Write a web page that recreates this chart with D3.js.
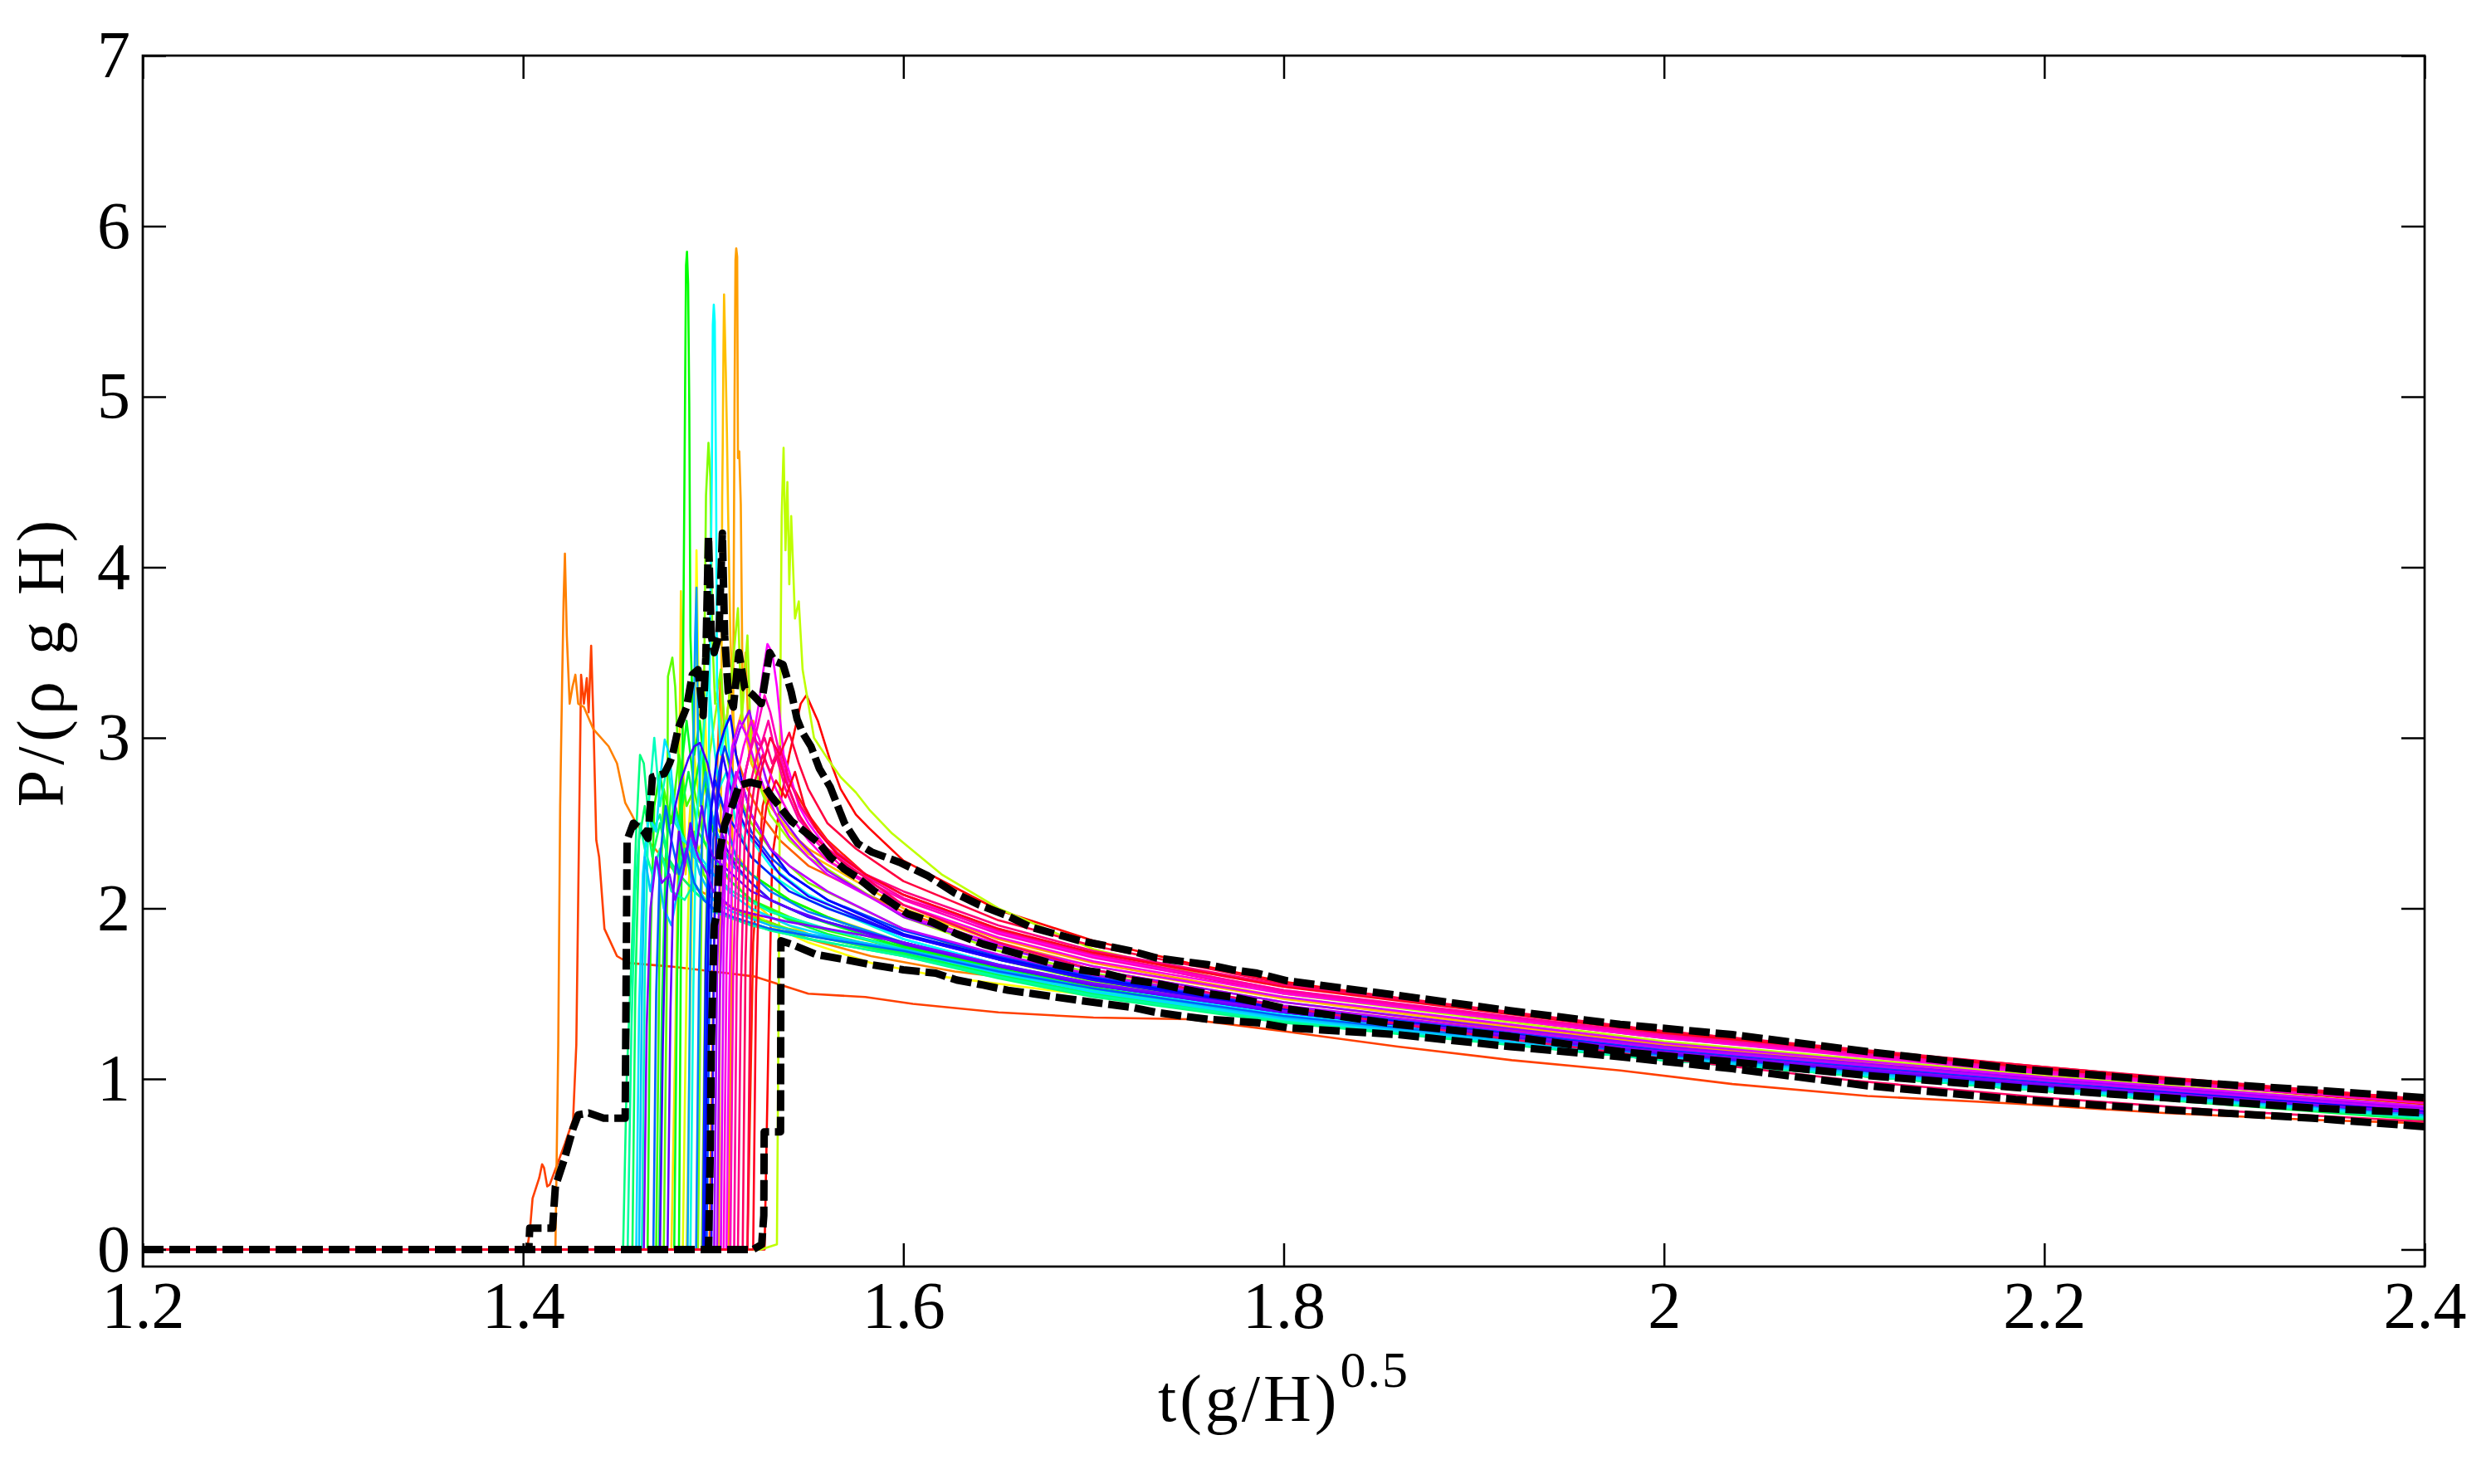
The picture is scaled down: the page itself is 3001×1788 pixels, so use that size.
<!DOCTYPE html>
<html><head><meta charset="utf-8">
<script src="https://cdn.jsdelivr.net/npm/d3@7"></script>
<style>body{margin:0;background:#fff}</style>
</head><body>
<svg id="c" width="3001" height="1788"></svg>
<script>
const xTicks=[1.2,1.4,1.6,1.8,2,2.2,2.4];
const yTicks=[0,1,2,3,4,5,6,7];
const xLabel="t(g/H)", xLabelSup="0.5", yLabel="P/(ρ g H)";

// one array of [t, P] points per run, in plotting (colour) order
const runs=[
[[1.2,0],[1.527,0],[1.529,1.2],[1.531,2.3],[1.535,2.6],[1.54,2.9],[1.546,3.2],[1.549,3.25],[1.555,3.1],[1.562,2.85],[1.567,2.7],[1.575,2.55],[1.582,2.47],[1.6,2.28],[1.65,1.99],[1.7,1.81],[1.75,1.68],[1.8,1.57],[1.9,1.41],[2.0,1.28],[2.1,1.17],[2.2,1.07],[2.3,0.97],[2.4,0.88]],
[[1.2,0],[1.518,0],[1.521,1.8],[1.526,2.6],[1.533,2.9],[1.54,2.75],[1.55,2.55],[1.56,2.4],[1.58,2.2],[1.6,2.08],[1.65,1.88],[1.7,1.72],[1.8,1.5],[2.0,1.24],[2.2,1.04],[2.4,0.85]],
[[1.2,0],[1.402,0],[1.4035,0.1],[1.405,0.3],[1.4085,0.42],[1.41,0.5],[1.411,0.48],[1.4127,0.37],[1.414,0.38],[1.418,0.5],[1.422,0.62],[1.4263,0.76],[1.428,1.2],[1.4295,2.5],[1.4305,3.37],[1.432,3.2],[1.4335,3.35],[1.4345,3.15],[1.4358,3.54],[1.437,3.1],[1.4385,2.4],[1.44,2.3],[1.4428,1.88],[1.4494,1.72],[1.4555,1.68],[1.477,1.66],[1.5,1.63],[1.522,1.6],[1.55,1.5],[1.58,1.48],[1.605,1.44],[1.65,1.39],[1.7,1.36],[1.75,1.35],[1.8,1.28],[1.86,1.19],[1.92,1.11],[1.977,1.05],[2.036,0.97],[2.107,0.9],[2.185,0.855],[2.263,0.8],[2.341,0.76],[2.4,0.74]],
[[1.2,0],[1.498,0],[1.5,1.5],[1.502,2.8],[1.504,3.4],[1.506,3.0],[1.509,3.3],[1.512,2.9],[1.518,2.7],[1.525,2.55],[1.535,2.4],[1.55,2.25],[1.6,1.98],[1.65,1.78],[1.7,1.64],[1.8,1.45],[2.0,1.18],[2.2,0.99],[2.4,0.81]],
[[1.2,0],[1.417,0],[1.4185,1.2],[1.4195,2.6],[1.4205,3.3],[1.4213,3.8],[1.422,4.08],[1.423,3.6],[1.4245,3.2],[1.426,3.3],[1.4275,3.37],[1.429,3.2],[1.432,3.18],[1.437,3.05],[1.445,2.95],[1.4494,2.85],[1.4537,2.62],[1.46,2.49],[1.467,2.38],[1.477,2.25],[1.487,2.14],[1.5,2.06],[1.515,1.98],[1.532,1.91],[1.55,1.82],[1.583,1.72],[1.627,1.63],[1.671,1.57],[1.714,1.51],[1.758,1.45],[1.8,1.38],[1.9,1.24],[2.0,1.13],[2.1,1.02],[2.2,0.93],[2.3,0.86],[2.4,0.78]],
[[1.2,0],[1.508,0],[1.5095,1.6],[1.5105,3.2],[1.5112,4.96],[1.5117,5.8],[1.5121,5.87],[1.5126,5.82],[1.513,4.64],[1.5137,4.68],[1.5145,4.37],[1.5155,3.2],[1.517,3.5],[1.519,2.9],[1.521,3.1],[1.525,2.7],[1.53,2.6],[1.54,2.45],[1.55,2.35],[1.6,2.02],[1.65,1.82],[1.7,1.68],[1.8,1.48],[2.0,1.2],[2.2,1.0],[2.4,0.82]],
[[1.2,0],[1.503,0],[1.5035,1.5],[1.5043,3.2],[1.5047,4.41],[1.505,4.71],[1.5054,5.3],[1.5057,5.6],[1.5062,5.35],[1.5066,5.15],[1.5072,4.79],[1.5078,4.34],[1.509,3.6],[1.511,3.0],[1.515,3.15],[1.52,2.85],[1.53,2.6],[1.54,2.45],[1.55,2.32],[1.6,2.0],[1.65,1.8],[1.7,1.66],[1.8,1.47],[2.0,1.19],[2.2,1.0],[2.4,0.82]],
[[1.2,0],[1.478,0],[1.48,1.2],[1.482,2.6],[1.483,3.86],[1.484,3.0],[1.4855,2.2],[1.488,2.6],[1.49,2.3],[1.495,2.4],[1.5,2.25],[1.51,2.15],[1.52,2.05],[1.53,1.95],[1.55,1.85],[1.6,1.72],[1.65,1.62],[1.7,1.54],[1.8,1.38],[2.0,1.13],[2.2,0.95],[2.4,0.78]],
[[1.2,0],[1.486,0],[1.488,1.5],[1.49,2.8],[1.4912,4.1],[1.4925,3.1],[1.495,3.4],[1.497,2.7],[1.5,2.5],[1.505,2.3],[1.51,2.2],[1.52,2.0],[1.53,1.9],[1.55,1.8],[1.583,1.68],[1.62,1.6],[1.67,1.53],[1.72,1.46],[1.8,1.35],[1.9,1.23],[2.0,1.12],[2.2,0.94],[2.4,0.77]],
[[1.2,0],[1.484,0],[1.486,1.6],[1.488,2.5],[1.49,2.9],[1.493,2.6],[1.497,2.75],[1.5,2.5],[1.51,2.35],[1.52,2.2],[1.54,2.05],[1.56,1.95],[1.6,1.8],[1.65,1.66],[1.7,1.56],[1.8,1.4],[2.0,1.15],[2.2,0.96],[2.4,0.79]],
[[1.2,0],[1.525,0],[1.5335,0.03],[1.5345,1.6],[1.535,2.6],[1.5355,3.6],[1.536,4.3],[1.537,4.7],[1.538,4.1],[1.539,4.5],[1.54,3.9],[1.541,4.3],[1.543,3.7],[1.545,3.8],[1.547,3.4],[1.55,3.2],[1.553,3.0],[1.56,2.88],[1.567,2.77],[1.575,2.68],[1.582,2.58],[1.594,2.44],[1.62,2.2],[1.65,2.0],[1.7,1.76],[1.8,1.5],[2.0,1.22],[2.2,1.02],[2.4,0.84]],
[[1.2,0],[1.494,0],[1.496,1.8],[1.498,2.9],[1.502,3.2],[1.506,3.0],[1.51,3.4],[1.513,3.76],[1.515,3.1],[1.518,3.6],[1.52,2.9],[1.525,2.7],[1.53,2.55],[1.54,2.4],[1.55,2.3],[1.6,1.95],[1.65,1.75],[1.7,1.62],[1.8,1.42],[2.0,1.16],[2.2,0.97],[2.4,0.8]],
[[1.2,0],[1.492,0],[1.4935,1.7],[1.495,3.1],[1.4962,4.42],[1.4975,4.73],[1.4985,4.53],[1.4995,3.6],[1.501,3.2],[1.504,3.4],[1.507,2.9],[1.51,2.75],[1.52,2.5],[1.53,2.35],[1.55,2.15],[1.6,1.88],[1.65,1.7],[1.7,1.57],[1.8,1.4],[2.0,1.14],[2.2,0.95],[2.4,0.79]],
[[1.2,0],[1.474,0],[1.4755,1.5],[1.4762,3.36],[1.4785,3.47],[1.48,3.3],[1.482,2.79],[1.485,2.3],[1.49,2.45],[1.495,2.2],[1.5,2.1],[1.51,2.0],[1.52,1.95],[1.54,1.88],[1.56,1.82],[1.6,1.74],[1.62,1.7],[1.625,1.66],[1.63,1.69],[1.64,1.63],[1.65,1.62],[1.7,1.52],[1.8,1.37],[2.0,1.13],[2.2,0.95],[2.4,0.78]],
[[1.2,0],[1.47,0],[1.472,2.0],[1.474,2.7],[1.478,2.5],[1.482,2.9],[1.486,2.6],[1.49,2.7],[1.495,2.4],[1.5,2.3],[1.51,2.15],[1.52,2.05],[1.54,1.95],[1.56,1.87],[1.6,1.76],[1.65,1.64],[1.7,1.53],[1.8,1.36],[2.0,1.12],[2.2,0.94],[2.4,0.77]],
[[1.2,0],[1.4655,0],[1.467,1.8],[1.469,2.6],[1.472,2.8],[1.476,2.45],[1.48,2.6],[1.485,2.4],[1.49,2.3],[1.5,2.2],[1.51,2.1],[1.53,1.98],[1.55,1.9],[1.6,1.77],[1.65,1.65],[1.7,1.54],[1.8,1.36],[2.0,1.12],[2.2,0.94],[2.4,0.77]],
[[1.2,0],[1.482,0],[1.483,1.8],[1.4842,3.5],[1.4852,5.02],[1.4857,5.77],[1.4862,5.85],[1.4868,5.66],[1.4874,4.95],[1.488,3.6],[1.49,2.9],[1.493,3.1],[1.497,2.6],[1.5,2.45],[1.51,2.3],[1.52,2.2],[1.54,2.05],[1.56,1.95],[1.6,1.78],[1.65,1.65],[1.7,1.55],[1.8,1.37],[2.0,1.13],[2.2,0.95],[2.4,0.78]],
[[1.2,0],[1.4795,0],[1.481,1.6],[1.483,2.8],[1.486,3.1],[1.49,2.7],[1.494,2.95],[1.5,2.5],[1.505,2.35],[1.515,2.2],[1.53,2.05],[1.55,1.95],[1.6,1.77],[1.65,1.64],[1.7,1.53],[1.8,1.36],[2.0,1.12],[2.2,0.94],[2.4,0.77]],
[[1.2,0],[1.4715,0],[1.473,1.4],[1.475,2.3],[1.478,2.7],[1.482,2.5],[1.487,2.8],[1.492,2.45],[1.5,2.3],[1.51,2.15],[1.52,2.05],[1.54,1.93],[1.56,1.85],[1.6,1.74],[1.65,1.61],[1.7,1.5],[1.8,1.34],[2.0,1.11],[2.2,0.93],[2.4,0.76]],
[[1.2,0],[1.4575,0],[1.459,1.5],[1.461,2.4],[1.464,2.6],[1.468,2.3],[1.472,2.5],[1.476,2.3],[1.482,2.2],[1.49,2.1],[1.5,2.0],[1.51,1.95],[1.53,1.88],[1.56,1.82],[1.6,1.73],[1.65,1.6],[1.7,1.5],[1.8,1.34],[2.0,1.11],[2.2,0.93],[2.4,0.77]],
[[1.2,0],[1.4526,0],[1.4545,1.0],[1.457,1.7],[1.4595,2.45],[1.4615,2.9],[1.4635,2.85],[1.4655,2.6],[1.468,2.45],[1.472,2.55],[1.476,2.3],[1.48,2.2],[1.485,2.35],[1.49,2.1],[1.5,2.0],[1.51,1.95],[1.53,1.87],[1.56,1.8],[1.6,1.72],[1.65,1.59],[1.7,1.48],[1.8,1.33],[2.0,1.11],[2.2,0.93],[2.4,0.77]],
[[1.2,0],[1.455,0],[1.457,1.3],[1.459,2.1],[1.4615,2.5],[1.464,2.35],[1.468,2.2],[1.472,2.35],[1.478,2.1],[1.485,2.05],[1.49,2.15],[1.5,1.98],[1.52,1.9],[1.55,1.82],[1.6,1.72],[1.65,1.6],[1.7,1.49],[1.8,1.34],[2.0,1.11],[2.2,0.93],[2.4,0.77]],
[[1.2,0],[1.4625,0],[1.464,1.6],[1.466,2.6],[1.469,3.0],[1.472,2.6],[1.476,2.85],[1.48,2.5],[1.485,2.4],[1.49,2.3],[1.5,2.2],[1.51,2.1],[1.53,1.98],[1.56,1.88],[1.6,1.76],[1.65,1.63],[1.7,1.52],[1.8,1.35],[2.0,1.12],[2.2,0.94],[2.4,0.78]],
[[1.2,0],[1.488,0],[1.4895,1.5],[1.491,2.5],[1.494,2.9],[1.4975,3.37],[1.5,3.0],[1.503,2.7],[1.507,2.8],[1.512,2.5],[1.52,2.3],[1.53,2.2],[1.55,2.05],[1.6,1.82],[1.65,1.67],[1.7,1.55],[1.8,1.37],[2.0,1.13],[2.2,0.95],[2.4,0.78]],
[[1.2,0],[1.495,0],[1.4965,1.6],[1.498,3.2],[1.4993,4.6],[1.4998,5.42],[1.5003,5.54],[1.5008,5.44],[1.5015,4.5],[1.502,3.3],[1.504,2.9],[1.507,3.1],[1.51,2.7],[1.515,2.5],[1.52,2.4],[1.53,2.25],[1.55,2.08],[1.6,1.82],[1.65,1.67],[1.7,1.55],[1.8,1.38],[2.0,1.14],[2.2,0.96],[2.4,0.79]],
[[1.2,0],[1.4595,0],[1.461,1.4],[1.463,2.2],[1.466,2.55],[1.47,2.45],[1.4725,2.8],[1.4745,2.99],[1.477,2.9],[1.48,2.55],[1.484,2.4],[1.49,2.35],[1.5,2.2],[1.51,2.08],[1.52,2.0],[1.54,1.9],[1.56,1.84],[1.6,1.75],[1.65,1.62],[1.7,1.51],[1.8,1.35],[2.0,1.12],[2.2,0.94],[2.4,0.78]],
[[1.2,0],[1.461,0],[1.4625,1.5],[1.464,2.3],[1.467,2.1],[1.47,2.3],[1.474,2.0],[1.478,1.9],[1.482,2.15],[1.488,2.4],[1.493,2.2],[1.5,2.05],[1.51,1.98],[1.53,1.9],[1.55,1.85],[1.6,1.76],[1.65,1.64],[1.7,1.53],[1.8,1.36],[2.0,1.13],[2.2,0.95],[2.4,0.79]],
[[1.2,0],[1.4865,0],[1.488,1.8],[1.4895,2.9],[1.4905,3.6],[1.4912,3.88],[1.492,3.0],[1.4935,2.6],[1.496,2.8],[1.5,2.5],[1.505,2.35],[1.51,2.25],[1.52,2.15],[1.53,2.05],[1.55,1.95],[1.6,1.8],[1.65,1.67],[1.7,1.56],[1.8,1.39],[2.0,1.15],[2.2,0.96],[2.4,0.79]],
[[1.2,0],[1.491,0],[1.4925,1.6],[1.494,2.4],[1.497,2.7],[1.5,2.5],[1.504,2.65],[1.508,2.45],[1.512,2.3],[1.52,2.2],[1.53,2.1],[1.55,1.98],[1.6,1.8],[1.65,1.66],[1.7,1.55],[1.8,1.39],[2.0,1.15],[2.2,0.96],[2.4,0.8]],
[[1.2,0],[1.4685,0],[1.47,1.5],[1.472,2.3],[1.475,2.6],[1.478,2.4],[1.482,2.2],[1.486,2.35],[1.49,2.15],[1.495,2.05],[1.5,2.0],[1.51,1.95],[1.53,1.88],[1.56,1.82],[1.6,1.75],[1.65,1.63],[1.7,1.53],[1.8,1.37],[2.0,1.14],[2.2,0.96],[2.4,0.8]],
[[1.2,0],[1.4965,0],[1.498,1.5],[1.5,2.4],[1.503,2.8],[1.506,2.95],[1.51,2.8],[1.515,2.6],[1.52,2.45],[1.53,2.3],[1.54,2.2],[1.56,2.05],[1.6,1.87],[1.65,1.72],[1.7,1.6],[1.8,1.42],[2.0,1.17],[2.2,0.98],[2.4,0.81]],
[[1.2,0],[1.4945,0],[1.496,1.7],[1.498,2.5],[1.501,2.75],[1.505,2.6],[1.51,2.5],[1.515,2.4],[1.52,2.3],[1.53,2.2],[1.54,2.1],[1.56,2.0],[1.6,1.84],[1.65,1.7],[1.7,1.58],[1.8,1.41],[2.0,1.16],[2.2,0.97],[2.4,0.8]],
[[1.2,0],[1.4955,0],[1.497,1.6],[1.499,2.6],[1.502,2.9],[1.506,3.05],[1.509,3.13],[1.512,2.9],[1.516,2.7],[1.52,2.55],[1.53,2.35],[1.54,2.2],[1.56,2.05],[1.6,1.85],[1.65,1.71],[1.7,1.59],[1.8,1.41],[2.0,1.16],[2.2,0.97],[2.4,0.81]],
[[1.2,0],[1.499,0],[1.5005,1.8],[1.502,2.6],[1.505,2.9],[1.508,2.75],[1.512,2.6],[1.518,2.45],[1.525,2.35],[1.535,2.2],[1.55,2.07],[1.6,1.84],[1.65,1.7],[1.7,1.58],[1.8,1.4],[2.0,1.15],[2.2,0.97],[2.4,0.8]],
[[1.2,0],[1.472,0],[1.4735,1.2],[1.475,2.0],[1.477,2.3],[1.48,2.6],[1.483,2.75],[1.487,2.88],[1.49,2.95],[1.493,2.97],[1.497,2.85],[1.5,2.7],[1.503,2.5],[1.507,2.35],[1.512,2.25],[1.52,2.15],[1.53,2.05],[1.55,1.95],[1.6,1.8],[1.65,1.66],[1.7,1.55],[1.8,1.39],[2.0,1.15],[2.2,0.96],[2.4,0.8]],
[[1.2,0],[1.476,0],[1.4775,1.4],[1.479,2.1],[1.482,2.45],[1.485,2.25],[1.488,2.5],[1.491,2.35],[1.494,2.6],[1.497,2.4],[1.5,2.3],[1.505,2.25],[1.51,2.2],[1.52,2.1],[1.54,2.0],[1.56,1.92],[1.6,1.79],[1.65,1.66],[1.7,1.55],[1.8,1.39],[2.0,1.15],[2.2,0.96],[2.4,0.8]],
[[1.2,0],[1.4635,0],[1.465,1.3],[1.467,2.0],[1.47,2.3],[1.473,2.15],[1.477,2.2],[1.48,2.05],[1.484,2.2],[1.488,2.45],[1.492,2.3],[1.497,2.2],[1.5,2.1],[1.51,2.0],[1.52,1.97],[1.54,1.92],[1.56,1.88],[1.6,1.8],[1.65,1.67],[1.7,1.56],[1.8,1.4],[2.0,1.16],[2.2,0.97],[2.4,0.8]],
[[1.2,0],[1.5005,0],[1.502,1.6],[1.504,2.4],[1.507,2.7],[1.51,2.9],[1.514,3.05],[1.519,3.16],[1.523,2.95],[1.528,2.75],[1.535,2.55],[1.545,2.4],[1.56,2.22],[1.6,1.95],[1.65,1.77],[1.7,1.64],[1.8,1.45],[2.0,1.19],[2.2,1.0],[2.4,0.83]],
[[1.2,0],[1.502,0],[1.5035,1.5],[1.5055,2.3],[1.508,2.6],[1.512,2.8],[1.516,2.7],[1.52,2.55],[1.525,2.45],[1.53,2.35],[1.54,2.25],[1.56,2.1],[1.6,1.88],[1.65,1.73],[1.7,1.61],[1.8,1.43],[2.0,1.18],[2.2,0.99],[2.4,0.82]],
[[1.2,0],[1.504,0],[1.5055,1.8],[1.507,2.6],[1.51,2.95],[1.514,3.1],[1.518,3.0],[1.522,2.85],[1.527,2.7],[1.533,2.55],[1.54,2.42],[1.55,2.3],[1.56,2.2],[1.6,1.96],[1.65,1.79],[1.7,1.66],[1.8,1.48],[2.0,1.21],[2.2,1.01],[2.4,0.84]],
[[1.2,0],[1.507,0],[1.5085,1.5],[1.51,2.3],[1.513,2.6],[1.517,2.8],[1.521,3.0],[1.524,3.2],[1.526,3.37],[1.5285,3.55],[1.531,3.5],[1.5335,3.3],[1.537,2.9],[1.54,2.8],[1.545,2.6],[1.55,2.5],[1.56,2.35],[1.58,2.2],[1.6,2.08],[1.65,1.86],[1.7,1.72],[1.8,1.52],[2.0,1.25],[2.2,1.04],[2.4,0.86]],
[[1.2,0],[1.5055,0],[1.507,1.7],[1.509,2.5],[1.512,2.75],[1.516,2.95],[1.52,3.1],[1.524,3.0],[1.528,2.85],[1.533,2.7],[1.54,2.55],[1.55,2.4],[1.56,2.28],[1.6,2.02],[1.65,1.83],[1.7,1.69],[1.8,1.5],[2.0,1.24],[2.2,1.03],[2.4,0.86]],
[[1.2,0],[1.509,0],[1.5105,1.6],[1.5125,2.4],[1.515,2.7],[1.519,2.9],[1.523,3.05],[1.527,3.25],[1.53,3.15],[1.534,2.95],[1.54,2.7],[1.547,2.5],[1.555,2.38],[1.57,2.22],[1.6,2.05],[1.65,1.85],[1.7,1.71],[1.8,1.51],[2.0,1.25],[2.2,1.04],[2.4,0.86]],
[[1.2,0],[1.511,0],[1.5125,1.8],[1.5145,2.5],[1.517,2.8],[1.521,3.0],[1.525,2.95],[1.529,3.1],[1.533,2.9],[1.538,2.7],[1.545,2.52],[1.555,2.4],[1.57,2.25],[1.6,2.06],[1.65,1.87],[1.7,1.73],[1.8,1.52],[2.0,1.26],[2.2,1.05],[2.4,0.87]],
[[1.2,0],[1.513,0],[1.5145,1.5],[1.5165,2.4],[1.519,2.7],[1.523,2.9],[1.527,3.0],[1.531,2.85],[1.535,2.95],[1.54,2.75],[1.546,2.6],[1.553,2.48],[1.565,2.33],[1.58,2.2],[1.6,2.1],[1.65,1.9],[1.7,1.75],[1.8,1.55],[2.0,1.27],[2.2,1.06],[2.4,0.87]],
[[1.2,0],[1.5155,0],[1.517,1.7],[1.519,2.5],[1.522,2.75],[1.526,2.9],[1.53,2.8],[1.534,2.9],[1.538,2.75],[1.545,2.55],[1.553,2.42],[1.565,2.3],[1.58,2.18],[1.6,2.02],[1.65,1.8],[1.7,1.64],[1.8,1.42],[1.9,1.26],[2.0,1.12],[2.1,0.99],[2.2,0.89],[2.3,0.81],[2.4,0.75]],
[[1.2,0],[1.518,0],[1.5195,1.6],[1.5215,2.5],[1.525,2.8],[1.53,3.0],[1.535,2.9],[1.54,3.03],[1.545,2.85],[1.55,2.7],[1.56,2.5],[1.575,2.35],[1.6,2.16],[1.65,1.93],[1.7,1.78],[1.8,1.56],[2.0,1.28],[2.2,1.07],[2.4,0.88]],
[[1.2,0],[1.521,0],[1.5225,1.5],[1.5245,2.3],[1.528,2.6],[1.533,2.75],[1.538,2.65],[1.543,2.8],[1.548,2.6],[1.555,2.45],[1.565,2.32],[1.58,2.2],[1.6,2.08],[1.65,1.88],[1.7,1.74],[1.8,1.54],[2.0,1.27],[2.2,1.06],[2.4,0.87]]
];

const upperCurve=[[1.2,0],[1.403,0],[1.4035,0.125],[1.4155,0.125],[1.417,0.37],[1.422,0.54],[1.4263,0.71],[1.429,0.79],[1.4345,0.8],[1.4424,0.77],[1.4537,0.77],[1.4547,2.4],[1.458,2.5],[1.4635,2.45],[1.4657,2.41],[1.468,2.77],[1.4743,2.79],[1.477,2.85],[1.4786,2.9],[1.4817,3.06],[1.486,3.18],[1.489,3.37],[1.492,3.4],[1.4947,3.13],[1.4961,3.47],[1.4975,4.18],[1.499,3.6],[1.5005,3.5],[1.503,3.6],[1.5048,4.2],[1.506,3.6],[1.5079,3.27],[1.5106,3.18],[1.5135,3.5],[1.5166,3.29],[1.521,3.25],[1.5253,3.2],[1.5297,3.5],[1.5323,3.45],[1.5367,3.43],[1.541,3.27],[1.5441,3.11],[1.547,3.03],[1.5514,2.95],[1.5558,2.82],[1.5616,2.71],[1.569,2.5],[1.576,2.38],[1.5834,2.33],[1.598,2.27],[1.613,2.19],[1.627,2.09],[1.64,2.02],[1.654,1.96],[1.667,1.89],[1.68,1.85],[1.693,1.81],[1.707,1.78],[1.72,1.75],[1.733,1.71],[1.746,1.69],[1.76,1.67],[1.773,1.64],[1.786,1.62],[1.802,1.575],[1.86,1.49],[1.919,1.4],[1.977,1.32],[2.036,1.26],[2.107,1.16],[2.185,1.06],[2.263,0.99],[2.341,0.935],[2.4,0.89]];
const medianCurve=[[1.2,0],[1.4975,0],[1.4985,0.6],[1.499,1.2],[1.5005,1.9],[1.502,1.97],[1.5034,2.33],[1.506,2.49],[1.5106,2.62],[1.5135,2.72],[1.5194,2.74],[1.5266,2.72],[1.531,2.65],[1.5354,2.59],[1.5412,2.51],[1.547,2.46],[1.5558,2.38],[1.5616,2.3],[1.569,2.23],[1.576,2.18],[1.5848,2.1],[1.602,1.97],[1.615,1.92],[1.628,1.85],[1.642,1.79],[1.655,1.75],[1.668,1.71],[1.68,1.67],[1.693,1.64],[1.706,1.62],[1.72,1.58],[1.733,1.56],[1.746,1.53],[1.76,1.5],[1.773,1.48],[1.786,1.45],[1.802,1.41],[1.86,1.32],[1.919,1.25],[1.977,1.16],[2.036,1.1],[2.107,1.02],[2.185,0.95],[2.263,0.89],[2.341,0.83],[2.4,0.8]];
const lowerCurve=[[1.2,0],[1.521,0],[1.5255,0.03],[1.5266,0.2],[1.5268,0.69],[1.5354,0.69],[1.5356,1.81],[1.541,1.79],[1.554,1.73],[1.569,1.7],[1.583,1.67],[1.6,1.64],[1.617,1.62],[1.628,1.58],[1.642,1.55],[1.655,1.52],[1.668,1.5],[1.68,1.48],[1.693,1.46],[1.706,1.44],[1.72,1.42],[1.733,1.39],[1.746,1.37],[1.76,1.35],[1.773,1.34],[1.786,1.33],[1.802,1.3],[1.86,1.26],[1.919,1.19],[1.977,1.13],[2.036,1.06],[2.107,0.96],[2.185,0.88],[2.263,0.82],[2.341,0.77],[2.4,0.72]];

const m={l:172,r:2921,t:67,b:1526};
const fontFam='"Liberation Serif","Times New Roman",serif';
const x=d3.scaleLinear().domain([1.2,2.4]).range([m.l,m.r]);
const y=d3.scaleLinear().domain([-0.1,7]).range([m.b,m.t]);
const svg=d3.select('#c');
svg.append('rect').attr('width',3001).attr('height',1788).attr('fill','#fff');
svg.append('defs').append('clipPath').attr('id','clip').append('rect')
  .attr('x',m.l).attr('y',m.t).attr('width',m.r-m.l).attr('height',m.b-m.t);
const g=svg.append('g').attr('clip-path','url(#clip)');
const line=d3.line().x(d=>x(d[0])).y(d=>y(d[1]));
const N=runs.length;
const hsvColor=i=>d3.hsl(i*360/N,1,0.5).formatHex();
runs.forEach((r,i)=>{
  g.append('path').attr('d',line(r)).attr('fill','none')
   .attr('stroke',hsvColor(i)).attr('stroke-width',2.6).attr('stroke-linejoin','round');
});
[upperCurve,medianCurve,lowerCurve].forEach(c=>{
  g.append('path').attr('d',line(c)).attr('fill','none').attr('stroke','#000')
   .attr('stroke-width',9).attr('stroke-dasharray','25,7').attr('stroke-linejoin','round');
});

const axB=svg.append('g').attr('transform',`translate(0,${m.b})`)
  .call(d3.axisBottom(x).tickValues(xTicks).tickSizeInner(-28).tickSizeOuter(0).tickPadding(17).tickFormat(d3.format('')));
const axL=svg.append('g').attr('transform',`translate(${m.l},0)`)
  .call(d3.axisLeft(y).tickValues(yTicks).tickSizeInner(-28).tickSizeOuter(0).tickPadding(15).tickFormat(d3.format('')));
const axT=svg.append('g').attr('transform',`translate(0,${m.t})`)
  .call(d3.axisTop(x).tickValues(xTicks).tickSizeInner(-28).tickSizeOuter(0).tickFormat(''));
const axR=svg.append('g').attr('transform',`translate(${m.r},0)`)
  .call(d3.axisRight(y).tickValues(yTicks).tickSizeInner(-28).tickSizeOuter(0).tickFormat(''));
[axB,axL,axT,axR].forEach(a=>{
  a.select('.domain').remove();
  a.selectAll('.tick line').attr('stroke','#000').attr('stroke-width',2.5);
  a.selectAll('text').attr('font-family',fontFam).attr('font-size',80).attr('fill','#000');
});
svg.append('rect').attr('x',m.l).attr('y',m.t).attr('width',m.r-m.l).attr('height',m.b-m.t)
  .attr('fill','none').attr('stroke','#000').attr('stroke-width',2.7);

const xl=svg.append('text').attr('x',(m.l+m.r)/2).attr('y',1712).attr('text-anchor','middle')
  .attr('font-family',fontFam).attr('font-size',80).attr('letter-spacing',4).attr('fill','#000');
xl.append('tspan').text(xLabel);
xl.append('tspan').attr('dy',-41).attr('font-size',62).attr('letter-spacing',2).text(xLabelSup);

svg.append('text').attr('transform',`translate(76,${(m.t+m.b)/2}) rotate(-90)`)
  .attr('text-anchor','middle').attr('font-family',fontFam).attr('font-size',80)
  .attr('letter-spacing',6).attr('fill','#000').text(yLabel);
</script>
</body></html>
